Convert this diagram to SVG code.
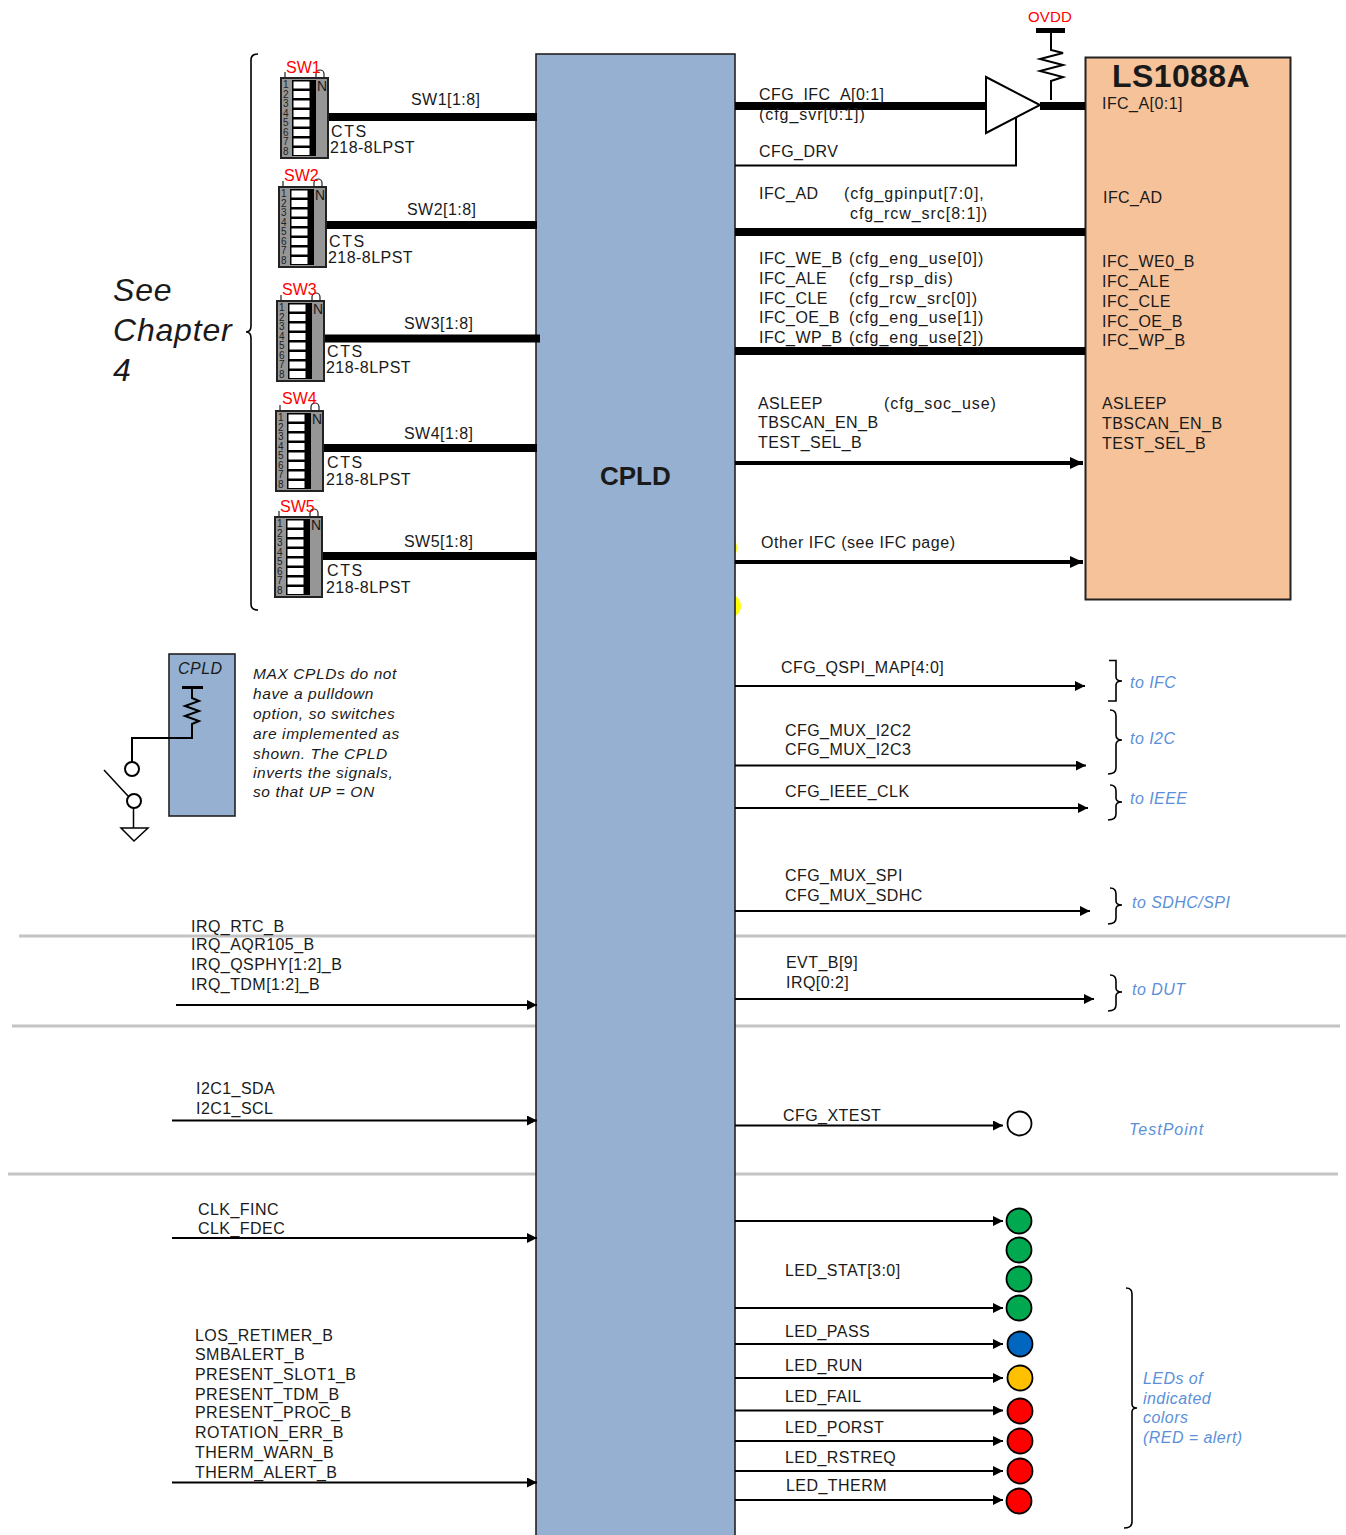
<svg xmlns="http://www.w3.org/2000/svg" width="1346" height="1535" viewBox="0 0 1346 1535">
<style>
text{font-family:"Liberation Sans",Arial,sans-serif;font-size:16px;letter-spacing:.45px;fill:#1a1a1a;white-space:pre}
.i{font-style:italic}
.blue{font-style:italic;fill:#5b8fd9}
.red{fill:#f00;letter-spacing:0}
.note{font-style:italic;font-size:15.5px;letter-spacing:.6px}
.big{font-weight:700}
.lc{letter-spacing:.95px}
.cts{letter-spacing:1.6px}
.bus{stroke:#000;stroke-width:8;fill:none}
.bus4{stroke:#000;stroke-width:4;fill:none;marker-end:url(#ah)}
.ln{stroke:#000;stroke-width:2;fill:none;marker-end:url(#a)}
.w{stroke:#000;stroke-width:2;fill:none}
.grey{stroke:#c4c4c4;stroke-width:3}
.led{stroke:#000;stroke-width:1.8}
.sl{fill:#fff;stroke:#000;stroke-width:1}
.dg{font-size:10px;letter-spacing:0;fill:#222}
</style>
<defs>
<marker id="a" markerUnits="userSpaceOnUse" markerWidth="12" markerHeight="10" refX="10" refY="5" orient="auto"><path d="M0 0L10 5L0 10z" fill="#000"/></marker>
<marker id="ah" markerUnits="userSpaceOnUse" markerWidth="14" markerHeight="14" refX="13" refY="7" orient="auto"><path d="M0 1L13 7L0 13z" fill="#000"/></marker>
<g id="dip">
<rect x="0" y="0" width="47" height="80" fill="#969696" stroke="#222" stroke-width="2"/>
<rect x="11" y="2" width="24" height="76" fill="#000"/>
<rect class="sl" x="12" y="3" width="17" height="8"/><rect class="sl" x="12" y="12.500" width="17" height="8"/><rect class="sl" x="12" y="22" width="17" height="8"/><rect class="sl" x="12" y="31.500" width="17" height="8"/><rect class="sl" x="12" y="41" width="17" height="8"/><rect class="sl" x="12" y="50.500" width="17" height="8"/><rect class="sl" x="12" y="60" width="17" height="8"/><rect class="sl" x="12" y="69.500" width="17" height="8"/>
<path d="M4 0V-6M35 0V-4A4 4 0 0 1 43-4V0" fill="none" stroke="#222" stroke-width="1.200"/>
<text class="dg" x="2" y="10">1</text><text class="dg" x="2" y="20">2</text><text class="dg" x="2" y="29">3</text><text class="dg" x="2" y="39">4</text><text class="dg" x="2" y="48">5</text><text class="dg" x="2" y="58">6</text><text class="dg" x="2" y="67">7</text><text class="dg" x="2" y="77">8</text>
<text x="36" y="13" style="font-size:14px;letter-spacing:0">N</text>
</g>
</defs>
<rect width="1346" height="1535" fill="#fff"/>
<g id="separators">
<path class="grey" d="M19 936H1346M12 1026H1340M8 1174H1338"/>
</g>
<g id="marks" fill="#ff0">
<ellipse cx="733" cy="548" rx="4" ry="8"/><ellipse cx="733" cy="565" rx="3" ry="8"/><ellipse cx="731" cy="606" rx="10" ry="11"/>
</g>
<g id="cpld">
<rect x="536" y="54" width="199" height="1490" fill="#95b0d0" stroke="#222" stroke-width="1.600"/>
<text class="big" x="600" y="485" style="font-size:26px;letter-spacing:0">CPLD</text>
</g>
<g id="ls1088a">
<rect x="1085.500" y="57.500" width="205" height="542" fill="#f6c299" stroke="#222" stroke-width="2"/>
<text class="big" x="1112" y="87" style="font-size:32px;letter-spacing:.4px">LS1088A</text>
<text x="1102" y="109">IFC_A[0:1]</text>
<text x="1103" y="203">IFC_AD</text>
<text x="1102" y="267">IFC_WE0_B</text>
<text x="1102" y="287">IFC_ALE</text>
<text x="1102" y="307">IFC_CLE</text>
<text x="1102" y="327">IFC_OE_B</text>
<text x="1102" y="346">IFC_WP_B</text>
<text x="1102" y="409">ASLEEP</text>
<text x="1102" y="429">TBSCAN_EN_B</text>
<text x="1102" y="449">TEST_SEL_B</text>
</g>
<g id="connectors">
<path class="bus" d="M328 117H537M326 225H537M325 338.500H540M323 448H537M322 556H537"/>
<path class="bus" d="M735 106H986M1040 106H1085M735 232H1085M735 351H1085"/>
<path class="bus4" d="M735 463H1083"/>
<path class="bus4" d="M735 562H1083"/>
<path class="w" d="M735 165.500H1016V118"/>
<path class="ln" d="M735 686H1085"/>
<path class="ln" d="M735 765.500H1086"/>
<path class="ln" d="M735 808H1088"/>
<path class="ln" d="M735 911H1090"/>
<path class="ln" d="M735 999H1094"/>
<path class="ln" d="M735 1125.500H1003"/>
<path class="ln" d="M735 1221H1003"/>
<path class="ln" d="M735 1308H1003"/>
<path class="ln" d="M735 1344H1003"/>
<path class="ln" d="M735 1378H1003"/>
<path class="ln" d="M735 1410.500H1003"/>
<path class="ln" d="M735 1441H1003"/>
<path class="ln" d="M735 1471H1003"/>
<path class="ln" d="M735 1500H1003"/>
<path class="ln" d="M176 1005H537"/>
<path class="ln" d="M172 1120.500H537"/>
<path class="ln" d="M172 1238H537"/>
<path class="ln" d="M172 1482.500H537"/>
</g>
<g id="buffer">
<path d="M986 77L1040 105L986 133Z" fill="#fff" stroke="#000" stroke-width="2"/>
</g>
<g id="ovdd">
<text class="red" x="1028" y="22" style="font-size:15px;letter-spacing:.2px">OVDD</text>
<path d="M1036 30.500H1065" stroke="#000" stroke-width="5" fill="none"/>
<path class="w" d="M1051 31V50L1063 53L1040 59L1063 65L1040 71L1063 77L1051 81V100"/>
</g>
<g id="sw1"><use href="#dip" x="281" y="78"/><text class="red" x="286" y="73">SW1</text><text x="411" y="105">SW1[1:8]</text><text class="cts" x="331" y="137">CTS</text><text x="330" y="153">218-8LPST</text></g>
<g id="sw2"><use href="#dip" x="279" y="187"/><text class="red" x="284" y="181">SW2</text><text x="407" y="215">SW2[1:8]</text><text class="cts" x="329" y="247">CTS</text><text x="328" y="263">218-8LPST</text></g>
<g id="sw3"><use href="#dip" x="277" y="301"/><text class="red" x="282" y="295">SW3</text><text x="404" y="329">SW3[1:8]</text><text class="cts" x="327" y="357">CTS</text><text x="326" y="373">218-8LPST</text></g>
<g id="sw4"><use href="#dip" x="276" y="411"/><text class="red" x="282" y="404">SW4</text><text x="404" y="439">SW4[1:8]</text><text class="cts" x="327" y="468">CTS</text><text x="326" y="485">218-8LPST</text></g>
<g id="sw5"><use href="#dip" x="275" y="517"/><text class="red" x="280" y="512">SW5</text><text x="404" y="547">SW5[1:8]</text><text class="cts" x="327" y="576">CTS</text><text x="326" y="593">218-8LPST</text></g>
<g id="see-chapter">
<path class="w" style="stroke-width:1.600" d="M258 54Q251 54 251 60V326Q251 332 246 332Q251 332 251 338V604Q251 610 258 610"/>
<text class="i" x="113" y="301" style="font-size:32px;letter-spacing:.8px">See</text><text class="i" x="113" y="341" style="font-size:32px;letter-spacing:.8px">Chapter</text><text class="i" x="113" y="381" style="font-size:32px">4</text>
</g>
<g id="cpld-inset">
<rect x="169" y="654" width="66" height="162" fill="#95b0d0" stroke="#222" stroke-width="1.600"/>
<text class="i" x="178" y="674">CPLD</text>
<path d="M182 687.500H203" stroke="#000" stroke-width="3" fill="none"/>
<path class="w" d="M192 688V698L199 701L185 706L199 711L185 716L199 721L192 724V738H132V762"/>
<circle cx="132" cy="769" r="7" fill="#fff" stroke="#000" stroke-width="2"/>
<circle cx="134" cy="801" r="7" fill="#fff" stroke="#000" stroke-width="2"/>
<path d="M104 770L128 796M133.500 808V828" stroke="#000" stroke-width="1.500" fill="none"/>
<path d="M121 828H148L134 841Z" fill="#fff" stroke="#000" stroke-width="1.500"/>
</g>
<g id="cpld-note">
<text class="note" x="253" y="679">MAX CPLDs do not</text>
<text class="note" x="253" y="699">have a pulldown</text>
<text class="note" x="253" y="719">option, so switches</text>
<text class="note" x="253" y="739">are implemented as</text>
<text class="note" x="253" y="759">shown. The CPLD</text>
<text class="note" x="253" y="778">inverts the signals,</text>
<text class="note" x="253" y="797">so that UP = ON</text>
</g>
<g id="ifc-labels">
<text x="759" y="100">CFG_IFC_A[0:1]</text>
<text class="lc" x="759" y="120">(cfg_svr[0:1])</text>
<text x="759" y="157">CFG_DRV</text>
<text x="759" y="199">IFC_AD</text><text class="lc" x="844" y="199">(cfg_gpinput[7:0],</text>
<text class="lc" x="850" y="219">cfg_rcw_src[8:1])</text>
<text x="759" y="264">IFC_WE_B</text><text class="lc" x="849" y="264">(cfg_eng_use[0])</text>
<text x="759" y="284">IFC_ALE</text><text class="lc" x="849" y="284">(cfg_rsp_dis)</text>
<text x="759" y="304">IFC_CLE</text><text class="lc" x="849" y="304">(cfg_rcw_src[0])</text>
<text x="759" y="323">IFC_OE_B</text><text class="lc" x="849" y="323">(cfg_eng_use[1])</text>
<text x="759" y="343">IFC_WP_B</text><text class="lc" x="849" y="343">(cfg_eng_use[2])</text>
<text x="758" y="409">ASLEEP</text><text class="lc" x="884" y="409">(cfg_soc_use)</text>
<text x="758" y="428">TBSCAN_EN_B</text>
<text x="758" y="448">TEST_SEL_B</text>
<text x="761" y="548" style="letter-spacing:.55px">Other IFC (see IFC page)</text>
</g>
<g id="cfg-labels">
<text x="781" y="673">CFG_QSPI_MAP[4:0]</text>
<text x="785" y="736">CFG_MUX_I2C2</text>
<text x="785" y="755">CFG_MUX_I2C3</text>
<text x="785" y="797">CFG_IEEE_CLK</text>
<text x="785" y="881">CFG_MUX_SPI</text>
<text x="785" y="901">CFG_MUX_SDHC</text>
<text x="786" y="968">EVT_B[9]</text>
<text x="786" y="988">IRQ[0:2]</text>
<text x="783" y="1121">CFG_XTEST</text>
</g>
<g id="left-labels">
<text x="191" y="932">IRQ_RTC_B</text>
<text x="191" y="950">IRQ_AQR105_B</text>
<text x="191" y="970">IRQ_QSPHY[1:2]_B</text>
<text x="191" y="990">IRQ_TDM[1:2]_B</text>
<text x="196" y="1094">I2C1_SDA</text>
<text x="196" y="1114">I2C1_SCL</text>
<text x="198" y="1215">CLK_FINC</text>
<text x="198" y="1234">CLK_FDEC</text>
<text x="195" y="1341">LOS_RETIMER_B</text>
<text x="195" y="1360">SMBALERT_B</text>
<text x="195" y="1380">PRESENT_SLOT1_B</text>
<text x="195" y="1400">PRESENT_TDM_B</text>
<text x="195" y="1418">PRESENT_PROC_B</text>
<text x="195" y="1438">ROTATION_ERR_B</text>
<text x="195" y="1458">THERM_WARN_B</text>
<text x="195" y="1478">THERM_ALERT_B</text>
</g>
<g id="braces">
<path class="w" style="stroke-width:1.600" d="M1109 660.500H1116V677Q1116 681 1122 681Q1116 681 1116 685V701H1108"/>
<path class="w" style="stroke-width:1.600" d="M1110 710Q1116 710 1116 716V735Q1116 740 1122 740Q1116 740 1116 745V768Q1116 774 1108 774"/>
<path class="w" style="stroke-width:1.600" d="M1110 785Q1116 785 1116 791V798Q1116 802 1122 802Q1116 802 1116 806V814Q1116 820 1108 820"/>
<path class="w" style="stroke-width:1.600" d="M1110 888Q1116 888 1116 894V901Q1116 905 1122 905Q1116 905 1116 909V918Q1116 924 1108 924"/>
<path class="w" style="stroke-width:1.600" d="M1110 975Q1116 975 1116 981V988Q1116 992 1122 992Q1116 992 1116 996V1005Q1116 1011 1108 1011"/>
<path class="w" style="stroke-width:1.600" d="M1126 1288Q1132 1288 1132 1294V1404Q1132 1408 1137 1408Q1132 1408 1132 1412V1522Q1132 1528 1124 1528"/>
<text class="blue" x="1130" y="688">to IFC</text>
<text class="blue" x="1130" y="744">to I2C</text>
<text class="blue" x="1130" y="804">to IEEE</text>
<text class="blue" x="1132" y="908">to SDHC/SPI</text>
<text class="blue" x="1132" y="995">to DUT</text>
<text class="blue" x="1129" y="1135" style="letter-spacing:1px">TestPoint</text>
<text class="blue" x="1143" y="1384">LEDs of</text>
<text class="blue" x="1143" y="1404">indicated</text>
<text class="blue" x="1143" y="1423">colors</text>
<text class="blue" x="1143" y="1443">(RED = alert)</text>
</g>
<g id="testpoint"><circle class="led" cx="1019.500" cy="1123.500" r="12" fill="#fff"/></g>
<g id="leds">
<circle class="led" id="led-stat3" cx="1019" cy="1221" r="12.500" fill="#00a84f"/>
<circle class="led" id="led-stat2" cx="1019" cy="1250" r="12.500" fill="#00a84f"/>
<circle class="led" id="led-stat1" cx="1019" cy="1279" r="12.500" fill="#00a84f"/>
<circle class="led" id="led-stat0" cx="1019" cy="1308" r="12.500" fill="#00a84f"/>
<circle class="led" id="led-pass" cx="1020" cy="1344" r="12.500" fill="#0066bf"/>
<circle class="led" id="led-run" cx="1020" cy="1378" r="12.500" fill="#ffc000"/>
<circle class="led" id="led-fail" cx="1020" cy="1411" r="12.500" fill="#f00"/>
<circle class="led" id="led-porst" cx="1020" cy="1441" r="12.500" fill="#f00"/>
<circle class="led" id="led-rstreq" cx="1020" cy="1471" r="12.500" fill="#f00"/>
<circle class="led" id="led-therm" cx="1019" cy="1501" r="12.500" fill="#f00"/>
<text x="785" y="1276">LED_STAT[3:0]</text>
<text x="785" y="1337">LED_PASS</text>
<text x="785" y="1371">LED_RUN</text>
<text x="785" y="1402">LED_FAIL</text>
<text x="785" y="1433">LED_PORST</text>
<text x="785" y="1463">LED_RSTREQ</text>
<text x="786" y="1491">LED_THERM</text>
</g>
</svg>
